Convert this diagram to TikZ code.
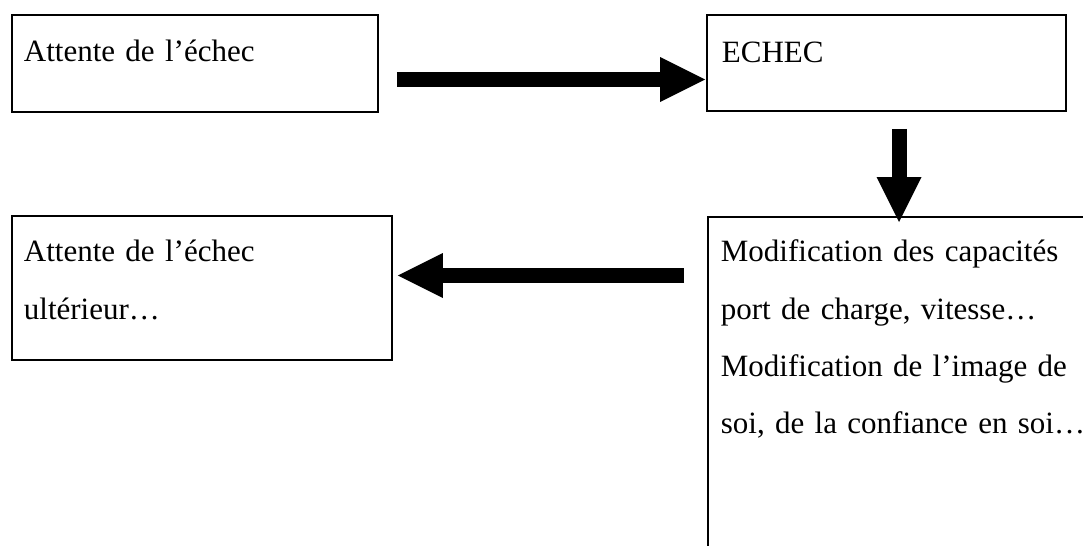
\documentclass[tikz,border=0pt]{standalone}
\usepackage{fontspec}
\setmainfont{Liberation Serif}[WordSpace=0.75]
\usepackage{tikz}
\usetikzlibrary{arrows.meta}

\tikzset{
  box/.style={draw, line width=0.9pt, anchor=north west, align=left,
    inner ysep=0pt, inner xsep=6pt,
    font=\fontsize{15.5pt}{28.6pt}\selectfont},
  bigarrow/.style={line width=7.5pt,
    -{Triangle[length=22.5pt, width=22.5pt, line width=0pt]}}
}

\begin{document}
\begin{tikzpicture}[x=0.5pt, y=-0.5pt]
\useasboundingbox (0,0) rectangle (1083,546);
\clip (0,0) rectangle (1083,546);

\node[box, minimum width=183pt, text width=171pt, text height=23.25pt, text depth=25.25pt] (att) at (11,14) {Attente de l’échec};
\node[box, inner xsep=7.5pt, minimum width=179.5pt, text width=164.5pt, text height=24pt, text depth=24pt] (ech) at (706,14) {ECHEC};
\node[box, inner xsep=6.5pt, minimum width=200pt, text width=187pt, text height=22.5pt, text depth=177.5pt] (conf) at (707,216) {Modification des capacités\\ port de charge, vitesse…\\ Modification de l’image de\\ soi, de la confiance en soi…};
\node[box, minimum width=190pt, text width=178pt, text height=23pt, text depth=49pt] (ult) at (11,215) {Attente de l’échec\\ ultérieur…};

\coordinate (r1) at (0,79.5);
\coordinate (r2) at (0,275.5);
\coordinate (c1) at (899,0);

\draw[bigarrow, shorten <=9pt, shorten >=0.5pt] (att.east |- r1) -- (ech.west |- r1);
\draw[bigarrow, shorten <=8.5pt, shorten >=-3pt] (ech.south -| c1) -- (conf.north -| c1);
\draw[bigarrow, shorten <=11.5pt, shorten >=2.5pt] (conf.west |- r2) -- (ult.east |- r2);

\end{tikzpicture}
\end{document}
